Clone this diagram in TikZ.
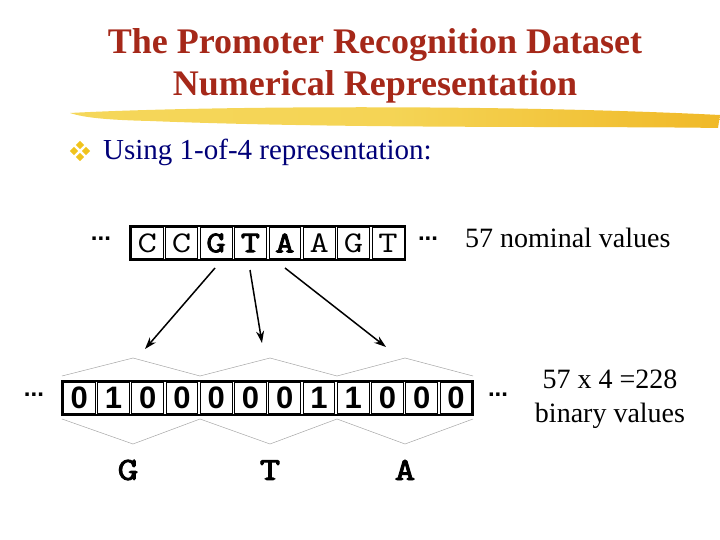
\documentclass[tikz,border=0pt]{standalone}
\usepackage{fontspec}
\setmainfont{Liberation Serif}
\newfontfamily\sansf{Liberation Sans}
\newfontfamily\monof[FakeStretch=1.25]{Latin Modern Mono}
\newfontfamily\monob[FakeStretch=1.25,FakeBold=3]{Latin Modern Mono}
\usetikzlibrary{arrows.meta}
\definecolor{titlered}{RGB}{165,40,25}
\definecolor{navy}{RGB}{0,0,120}
\definecolor{brushA}{RGB}{245,215,90}
\definecolor{brushB}{RGB}{240,185,40}
\definecolor{bulletY}{RGB}{240,195,30}
\tikzset{
  titletext/.style={text=titlered, font=\fontsize{36}{42}\selectfont\bfseries, align=center},
  bodytext/.style={font=\fontsize{29}{34}\selectfont, inner sep=0pt},
  sidetext/.style={font=\fontsize{28}{34}\selectfont, inner sep=0pt},
  seqcell/.style={draw, line width=0.7pt, minimum width=31.8pt, minimum height=31pt, inner sep=0pt, font=\monof\fontsize{30}{30}\selectfont},
  bincell/.style={draw, line width=0.7pt, minimum width=31.6pt, minimum height=31pt, inner sep=0pt, font=\sansf\bfseries\fontsize{31}{31}\selectfont},
  outerbox/.style={draw, line width=1.3pt},
  dots/.style={font=\sansf\bfseries\fontsize{24}{24}\selectfont, inner sep=0pt},
  zig/.style={draw=gray!70, line width=0.5pt},
  arr/.style={-{Stealth[length=12pt,width=8pt]}, line width=1.5pt},
  lbl/.style={font=\monob\fontsize{32}{32}\selectfont, inner sep=0pt},
  diam/.style={fill=bulletY, draw=none}
}
\begin{document}
\begin{tikzpicture}[x=1pt,y=-1pt]
\useasboundingbox (0,0) rectangle (720,540);
% title
\node[titletext] (title) at (375,66) {The Promoter Recognition Dataset\\Numerical Representation};
% brush stroke
\shade[left color=brushA, right color=brushB, middle color=brushA!90!brushB]
  (70,113) .. controls (200,106) and (500,104) .. (720,115)
  -- (718,128) .. controls (600,126) and (350,129) .. (150,121)
  .. controls (110,120) and (85,118) .. (70,113) -- cycle;
% bullet
\foreach \dx/\dy [count=\i] in {0/-6,-6/0,6/0,0/6}{
  \fill[diam] (80+\dx,151+\dy-4.2) -- (80+\dx+4.2,151+\dy) -- (80+\dx,151+\dy+4.2) -- (80+\dx-4.2,151+\dy) -- cycle;
}
\node[bodytext, text=navy, anchor=west] (using) at (103,152) {Using 1-of-4 representation:};
% top sequence
\foreach \ch [count=\i] in {C,C,{\monob G},{\monob T},{\monob A},A,G,T}{
  \node[seqcell] (c\i) at ({130+34.4*(\i-0.5)},243) {\ch};
}
\draw[outerbox] (130,226) rectangle (405,260);
\node[dots] (dl1) at (101,239) {...};
\node[dots] (dr1) at (428,239) {...};
\node[sidetext, anchor=west] (nom) at (465,238) {57 nominal values};
% arrows
\coordinate (sG) at (215,268);
\coordinate (sT) at (250,270);
\coordinate (sA) at (285,268);
\coordinate (eG) at (145,349);
\coordinate (eT) at (262,343);
\coordinate (eA) at (386,347);
\draw[arr] (sG) -- (eG);
\draw[arr] (sT) -- (eT);
\draw[arr] (sA) -- (eA);
% binary
\foreach \d [count=\i] in {0,1,0,0,0,0,0,1,1,0,0,0}{
  \node[bincell] (b\i) at ({62+34.25*(\i-0.5)},398) {\d};
}
\draw[outerbox] (62,381) rectangle (473,415);
\node[dots] (dl2) at (34,395) {...};
\node[dots] (dr2) at (498,395) {...};
% zigzags
\draw[zig] (62,376) -- (133,358) -- (200,376) -- (270,358) -- (337,376) -- (405,358) -- (473,376);
\draw[zig] (62,419) -- (133,444) -- (200,419) -- (270,444) -- (337,419) -- (405,444) -- (473,419);
% labels
\node[lbl] (lG) at (128,470) {G};
\node[lbl] (lT) at (270,470) {T};
\node[lbl] (lA) at (405,470) {A};
\node[sidetext, align=center] (bin) at (610,399) {57 x 4 =228\\binary values};
\end{tikzpicture}
\end{document}
